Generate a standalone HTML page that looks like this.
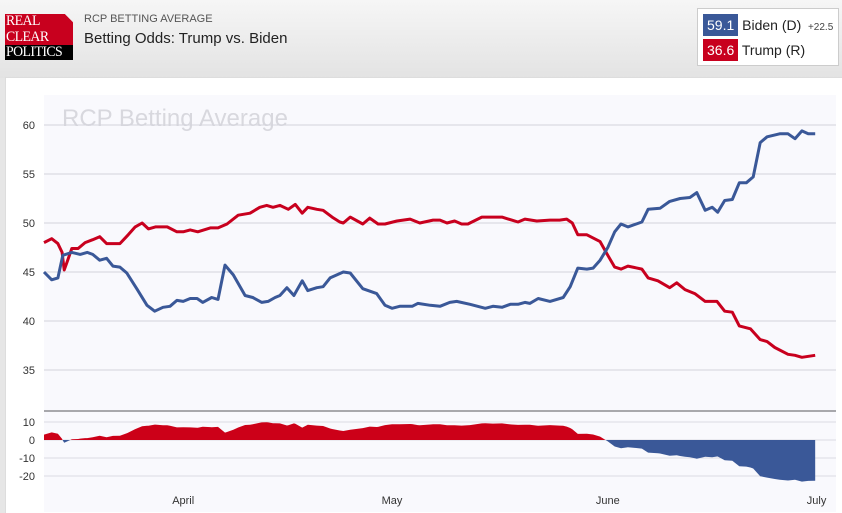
<!DOCTYPE html>
<html><head><meta charset="utf-8"><style>
body{margin:0;width:842px;height:512px;overflow:hidden;font-family:"Liberation Sans",sans-serif;background:#e6e6e6;}
#hdr{position:absolute;left:0;top:0;width:842px;height:78px;background:linear-gradient(#f6f6f6,#e3e3e3);}
#panel{position:absolute;left:5px;top:77px;width:837px;height:435px;background:#fff;border-top:1px solid #ddd;border-left:1px solid #ddd;}
svg{position:absolute;left:0;top:0;}
</style></head><body>
<div id="hdr">
 <div style="position:absolute;left:5px;top:14px;width:68px;height:46px;background:#c8001e;clip-path:polygon(0 0,88% 0,100% 18%,100% 100%,0 100%);overflow:hidden">
  <div style="position:absolute;left:0;top:31px;width:68px;height:15px;background:#000"></div>
  <div style="position:absolute;left:1px;top:0px;color:#fff;font-family:'Liberation Serif',serif;font-size:15px;line-height:15.5px;letter-spacing:-0.6px;transform:scaleX(0.92);transform-origin:left">REAL<br>CLEAR<br>POLITICS</div>
 </div>
 <div style="position:absolute;left:84px;top:13px;font-size:11px;color:#555">RCP BETTING AVERAGE</div>
 <div style="position:absolute;left:84px;top:30px;font-size:15px;color:#222">Betting Odds: Trump vs. Biden</div>
 <div style="position:absolute;left:697px;top:8px;width:140px;height:56px;background:#fff;border:1px solid #ccc;">
  <div style="position:absolute;left:5px;top:5px;height:22px;font-size:14px;line-height:22px;white-space:nowrap">
   <span style="display:inline-block;background:#3a5898;color:#fff;padding:0 4px">59.1</span> <span style="color:#222">Biden (D)</span> <span style="font-size:10px;color:#444">&nbsp;+22.5</span></div>
  <div style="position:absolute;left:5px;top:30px;height:22px;font-size:14px;line-height:22px;white-space:nowrap">
   <span style="display:inline-block;background:#c8001e;color:#fff;padding:0 4px">36.6</span> <span style="color:#222">Trump (R)</span></div>
 </div>
</div>
<div id="panel"></div>
<svg id="chart" width="842" height="512"></svg>
<script>
const bidenDays=[0,1.1,2,2.7,4,5.2,6.2,7,8,9,9.9,10.9,11.9,13.4,14.8,15.9,17.1,18.1,19.1,20,21,22,22.8,24.1,25,26,27.2,28.9,30,31.3,32.2,33.2,33.9,34.9,35.9,37.1,37.9,39.2,40.1,41.1,43,44,45.8,47.8,49,50,51.1,52.9,53.7,55.5,56.9,58.3,59.3,61.2,63.4,64.5,65.8,67,68.1,69.1,69.8,71,72.7,74.6,75.6,76.7,78,78.9,79.9,81,82,82.9,83.9,85.9,86.8,88.5,89.9,91.4,92.8,93.8,95,96,96.8,97.8,98.9,99.9,100.9,101.9,102.9,103.9,105.7,106.9,107.9,108.9,109.8,110.8];
const bidenVals=[45,44.2,44.4,46.7,47,46.8,47,46.8,46.2,46.4,45.6,45.5,44.9,43.2,41.6,41,41.4,41.5,42.1,42,42.3,42.3,41.9,42.4,42.2,45.7,44.7,42.6,42.4,41.9,42,42.4,42.6,43.4,42.6,44.1,43.1,43.4,43.5,44.4,45,44.9,43.3,42.8,41.6,41.3,41.5,41.5,41.8,41.6,41.5,41.9,42,41.7,41.3,41.5,41.4,41.7,41.7,41.9,41.8,42.3,42,42.4,43.5,45.4,45.3,45.4,46.2,47.5,49.1,49.9,49.6,50.1,51.4,51.5,52.2,52.5,52.6,53.1,51.3,51.6,51.1,52.3,52.4,54.1,54.1,54.7,58.2,58.8,59.1,59.1,58.6,59.4,59.1,59.1];
const trumpDays=[0,1.1,2,2.6,2.9,3.3,4,4.9,5.9,7,8,9,10.9,12.1,13.1,14.1,15,16,17.7,19.1,20,21,22.1,23.9,25,26.3,27.9,29.6,31,32,32.9,33.9,35.1,36.1,37.1,37.9,39.2,40.1,41.4,42.5,43,44,45.8,46.8,48,49,50.7,52.6,54,55.9,56.9,57.9,59,60,60.9,62.9,64.5,65.8,67.2,68.1,69.1,70.8,72.7,74.1,75.1,75.9,76.7,78,79.9,81,82,82.9,83.9,85.9,86.8,88.2,89.9,90.9,92.1,93.5,95,96.7,97.8,98.9,99.9,101.5,102.9,103.9,105,106.9,107.9,108.9,110.8];
const trumpVals=[48,48.4,47.9,47,45.2,46,47.4,47.4,48,48.3,48.6,47.9,47.9,48.8,49.6,50,49.4,49.6,49.6,49.1,49.1,49.3,49.1,49.5,49.5,49.9,50.8,51,51.6,51.8,51.6,51.8,51.4,51.9,51,51.6,51.4,51.3,50.6,50.1,50,50.6,49.9,50.5,49.9,49.9,50.2,50.4,50,50.3,50.3,50,50.2,49.9,49.9,50.6,50.6,50.6,50.3,50.1,50.4,50.2,50.3,50.3,50.4,50,48.8,48.8,48.1,46.7,45.5,45.3,45.6,45.3,44.4,44.1,43.4,43.9,43.2,42.8,42,42,41,40.9,39.5,39.2,38.1,37.9,37.3,36.6,36.5,36.3,36.5];
const mainTicks=[60,55,50,45,40,35];
const spreadTicks=[10,0,-10,-20];
const monthLabels=["April","May","June","July"];
const monthDays=[20,50,81,111];

const svg=document.getElementById('chart');
const NS='http://www.w3.org/2000/svg';
const x=d=>44+d*6.96;
const y=v=>125+(60-v)*9.8;
const ys=v=>440-v*1.8;
function mk(t,a){const e=document.createElementNS(NS,t);for(const k in a)e.setAttribute(k,a[k]);svg.appendChild(e);return e;}

let bg=mk('rect',{x:44,y:95,width:792,height:417,fill:'#f9f9fd'});


let wm=mk('text',{x:62,y:126,'font-size':24,fill:'#d8d8de'});wm.textContent='RCP Betting Average';



mainTicks.forEach(t=>{
 const g=mk('line',{x1:44,x2:836,y1:y(t),y2:y(t),stroke:'#d4d4dc','stroke-width':1});
 
 
 const l=mk('text',{x:35,y:y(t)+4,'font-size':11,fill:'#333','text-anchor':'end'});l.textContent=t;
 
 
});
let sep=mk('line',{x1:44,x2:836,y1:411,y2:411,stroke:'#a8a8ac','stroke-width':2});


spreadTicks.forEach(t=>{
 const g=mk('line',{x1:44,x2:836,y1:ys(t),y2:ys(t),stroke:'#dcdce2','stroke-width':1});
 
 
 const l=mk('text',{x:35,y:ys(t)+4,'font-size':11,fill:'#333','text-anchor':'end'});l.textContent=t;
 
 
});
monthLabels.forEach((m,i)=>{
 const l=mk('text',{x:x(monthDays[i]),y:504,'font-size':11,fill:'#333','text-anchor':'middle'});l.textContent=m;
 
 
});

function interp(ds,vs,d){if(d<=ds[0])return vs[0];for(let i=1;i<ds.length;i++){if(d<=ds[i]){const f=(d-ds[i-1])/(ds[i]-ds[i-1]);return vs[i-1]+f*(vs[i]-vs[i-1]);}}return vs[vs.length-1];}
const all=[...new Set(bidenDays.concat(trumpDays))].sort((a,b)=>a-b);
let pts=all.map(d=>[x(d),ys(interp(trumpDays,trumpVals,d)-interp(bidenDays,bidenVals,d))]);
const areaD='M'+x(all[0])+','+ys(0)+' '+pts.map(p=>'L'+p[0].toFixed(1)+','+p[1].toFixed(1)).join(' ')+' L'+x(all[all.length-1])+','+ys(0)+'Z';
const defs=mk('defs',{});
const c1=document.createElementNS(NS,'clipPath');c1.id='pos';defs.appendChild(c1);
const r1=document.createElementNS(NS,'rect');r1.setAttribute('x',0);r1.setAttribute('y',0);r1.setAttribute('width',842);r1.setAttribute('height',ys(0));c1.appendChild(r1);
const c2=document.createElementNS(NS,'clipPath');c2.id='neg';defs.appendChild(c2);
const r2=document.createElementNS(NS,'rect');r2.setAttribute('x',0);r2.setAttribute('y',ys(0));r2.setAttribute('width',842);r2.setAttribute('height',100);c2.appendChild(r2);
let ap=mk('path',{d:areaD,fill:'#cc0018','clip-path':'url(#pos)'});


let an=mk('path',{d:areaD,fill:'#3a5898','clip-path':'url(#neg)'});



function line(ds,vs,col,name){
 const p=mk('path',{d:ds.map((d,i)=>(i?'L':'M')+x(d).toFixed(1)+','+y(vs[i]).toFixed(1)).join(' '),fill:'none',stroke:col,'stroke-width':3,'stroke-linejoin':'round'});
 
 
}
line(trumpDays,trumpVals,'#c8001e','trump-line');
line(bidenDays,bidenVals,'#3a5898','biden-line');
</script>
</body></html>
